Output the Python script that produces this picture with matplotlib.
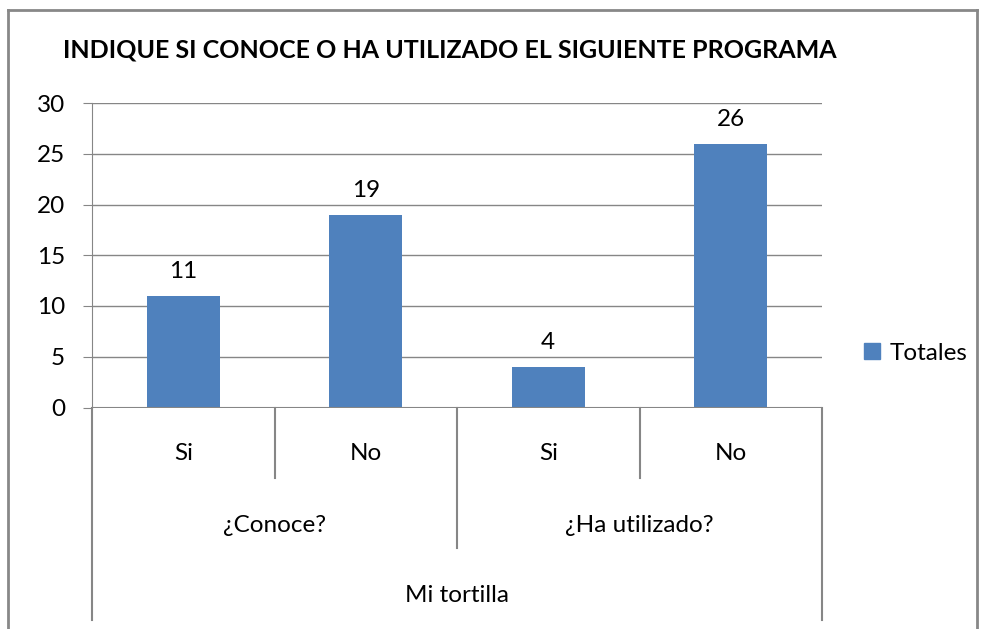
import matplotlib
matplotlib.use("Agg")
import matplotlib.pyplot as plt
from matplotlib.lines import Line2D
from matplotlib.patches import Patch

# data
answers = ["Si", "No", "Si", "No"]
questions = ["¿Conoce?", "¿Ha utilizado?"]
program = "Mi tortilla"
totales = [11, 19, 4, 26]

plt.rcParams["font.family"] = ["Lato", "DejaVu Sans"]

W, H = 981, 629
fig = plt.figure(figsize=(W / 100, H / 100), dpi=100)
fig.patch.set_facecolor("white")

# plot area in pixels
px_left, px_right, px_top, px_bottom = 92, 822, 103, 407.5
ax = fig.add_axes([px_left / W, 1 - px_bottom / H,
                   (px_right - px_left) / W, (px_bottom - px_top) / H])

grey = "#868686"
blue = "#4F81BD"
fs = 17.5

x = list(range(len(totales)))
ax.bar(x, totales, width=0.4, color=blue, zorder=3)
ax.set_xlim(-0.5, len(totales) - 0.5)
ax.set_ylim(0, 30)
ax.set_yticks(range(0, 31, 5))
ax.yaxis.grid(True, color=grey, linewidth=1)
ax.set_axisbelow(True)
ax.set_xticks([])
for s in ["top", "right", "bottom"]:
    ax.spines[s].set_visible(False)
ax.spines["left"].set_color(grey)
ax.tick_params(axis="y", length=6.5, color=grey, labelsize=fs, pad=13)
ax.axhline(0, color=grey, linewidth=1.5, zorder=4)

for xi, v in zip(x, totales):
    ax.annotate(str(v), (xi, v), xytext=(0, 10), textcoords="offset points",
                ha="center", va="bottom", fontsize=fs)

# multi-level category axis
tr = ax.get_xaxis_transform()
ah = px_bottom - px_top
def fy(py):
    return -(py - px_bottom) / ah

lines = [(-0.5, 620), (0.5, 478), (1.5, 548), (2.5, 478), (3.5, 620)]
for xl, yb in lines:
    ax.add_line(Line2D([xl, xl], [0, fy(yb)], transform=tr, color=grey,
                       linewidth=1.5, clip_on=False))

for xi, lab in zip(x, answers):
    ax.text(xi, fy(454), lab, transform=tr, ha="center", va="center", fontsize=fs)
for i, q in enumerate(questions):
    ax.text(2 * i + 0.5, fy(525), q, transform=tr, ha="center", va="center", fontsize=fs)
ax.text(1.5, fy(595), program, transform=tr, ha="center", va="center", fontsize=fs)

# title
fig.text(450 / W, 1 - 50 / H, "INDIQUE SI CONOCE O HA UTILIZADO EL SIGUIENTE PROGRAMA",
         ha="center", va="center", fontsize=18, fontweight="bold")

# legend
ax.legend(handles=[Patch(color=blue, label="Totales")], loc="center left",
          bbox_to_anchor=(864 / W, 1 - 353 / H), bbox_transform=fig.transFigure,
          frameon=False, fontsize=fs, handlelength=0.65, handleheight=0.65,
          handletextpad=0.4, borderpad=0, borderaxespad=0)

# outer border of the chart
for xs, ys in [([8, 8], [10, H]), ([8, 977], [10, 10]), ([977, 977], [10, H])]:
    fig.add_artist(Line2D([v / W for v in xs], [1 - v / H for v in ys],
                          color="#888888", linewidth=2))

fig.savefig("out.png", dpi=100)
